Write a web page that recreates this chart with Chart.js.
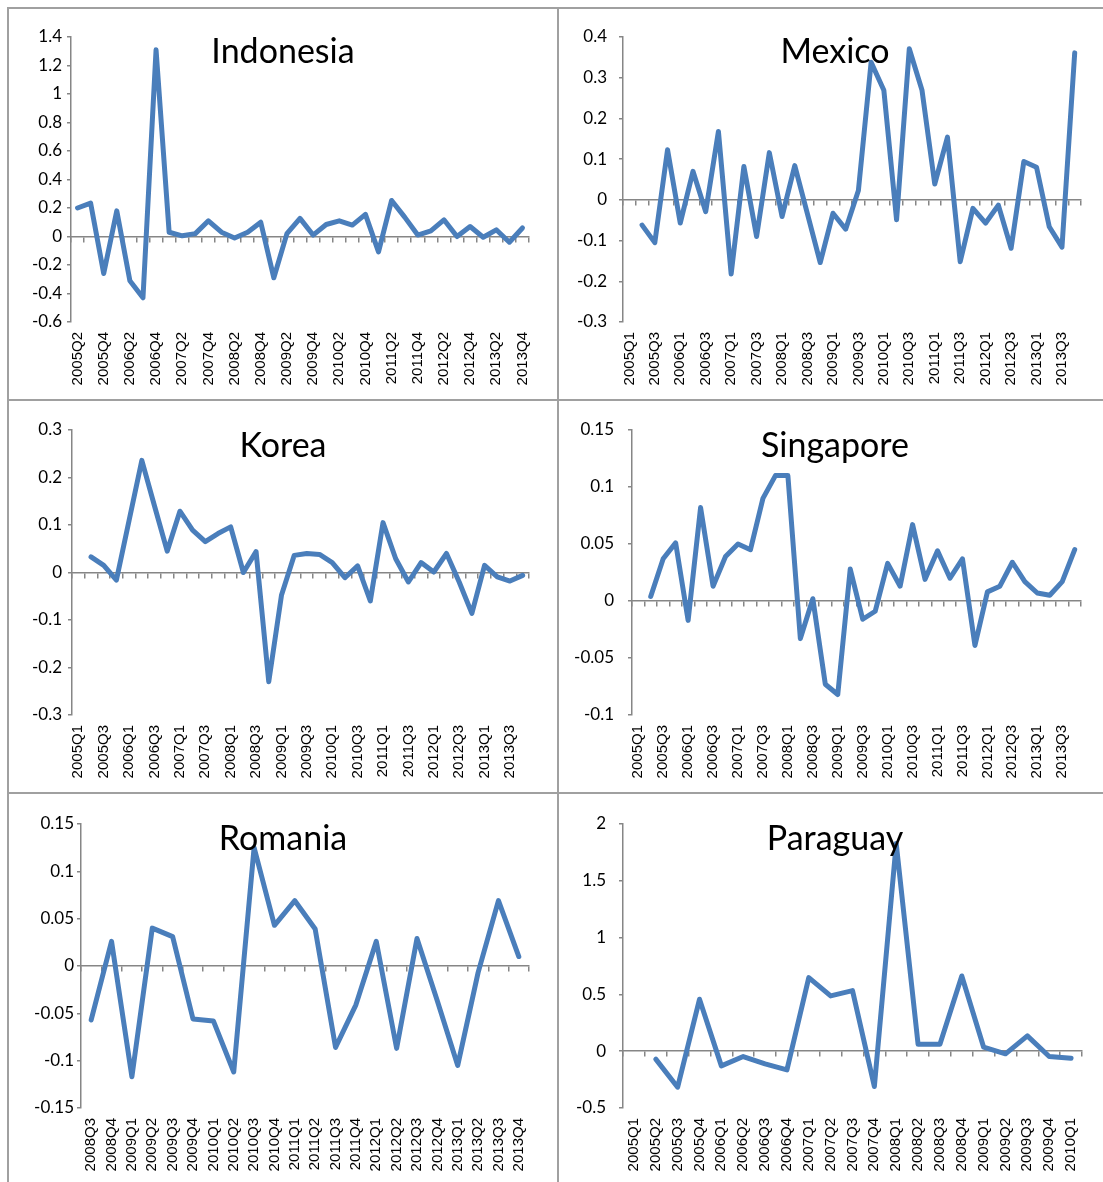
<!DOCTYPE html>
<html>
<head>
<meta charset="utf-8">
<title>Quarterly series</title>
<script src="https://cdn.jsdelivr.net/npm/chart.js@4.4.0/dist/chart.umd.min.js"></script>
<style>
  body { margin: 0; background: #fff; }
  #sheet { position: relative; width: 1103px; height: 1182px; overflow: hidden; background: #fff; }
  .rule { position: absolute; background: #a0a0a0; }
</style>
</head>
<body>
<div id="sheet"></div>
<script>
// Category labels
const quarters2005to2013 = ['2005Q1','2005Q2','2005Q3','2005Q4','2006Q1','2006Q2','2006Q3','2006Q4',
  '2007Q1','2007Q2','2007Q3','2007Q4','2008Q1','2008Q2','2008Q3','2008Q4','2009Q1','2009Q2','2009Q3','2009Q4',
  '2010Q1','2010Q2','2010Q3','2010Q4','2011Q1','2011Q2','2011Q3','2011Q4','2012Q1','2012Q2','2012Q3','2012Q4',
  '2013Q1','2013Q2','2013Q3','2013Q4'];
const indonesiaLabels = quarters2005to2013.slice(1);
const romaniaLabels = ['2008Q3','2008Q4','2009Q1','2009Q2','2009Q3','2009Q4','2010Q1','2010Q2','2010Q3','2010Q4',
  '2011Q1','2011Q2','2011Q3','2011Q4','2012Q1','2012Q2','2012Q3','2012Q4','2013Q1','2013Q2','2013Q3','2013Q4'];
const paraguayLabels = ['2005Q1','2005Q2','2005Q3','2005Q4','2006Q1','2006Q2','2006Q3','2006Q4','2007Q1','2007Q2',
  '2007Q3','2007Q4','2008Q1','2008Q2','2008Q3','2008Q4','2009Q1','2009Q2','2009Q3','2009Q4','2010Q1'];

// Series values
const indonesiaValues = [0.20, 0.234, -0.26, 0.18, -0.31, -0.43, 1.31, 0.03, 0.005, 0.02, 0.11, 0.03, -0.01, 0.03,
  0.10, -0.29, 0.02, 0.127, 0.01, 0.084, 0.11, 0.08, 0.155, -0.108, 0.253, 0.136, 0.01, 0.04, 0.117, 0.0, 0.07,
  -0.005, 0.047, -0.04, 0.06];
const mexicoValues = [null, -0.062, -0.105, 0.123, -0.057, 0.07, -0.029, 0.168, -0.182, 0.082, -0.09, 0.116,
  -0.041, 0.084, -0.035, -0.154, -0.033, -0.072, 0.023, 0.338, 0.269, -0.049, 0.371, 0.269, 0.039, 0.154, -0.152,
  -0.021, -0.057, -0.013, -0.119, 0.094, 0.08, -0.066, -0.116, 0.361];
const koreaValues = [null, 0.033, 0.015, -0.016, 0.11, 0.236, 0.14, 0.045, 0.129, 0.089, 0.065, 0.082, 0.096, 0.0,
  0.044, -0.23, -0.048, 0.036, 0.04, 0.038, 0.021, -0.011, 0.014, -0.06, 0.105, 0.029, -0.02, 0.021, 0.001, 0.04,
  -0.02, -0.086, 0.015, -0.009, -0.018, -0.006];
const singaporeValues = [null, 0.004, 0.037, 0.051, -0.017, 0.082, 0.013, 0.039, 0.05, 0.045, 0.09, 0.11, 0.11,
  -0.033, 0.002, -0.073, -0.082, 0.028, -0.016, -0.009, 0.033, 0.013, 0.067, 0.019, 0.044, 0.02, 0.037, -0.039,
  0.008, 0.013, 0.034, 0.017, 0.007, 0.005, 0.017, 0.045];
const romaniaValues = [-0.057, 0.026, -0.117, 0.04, 0.031, -0.056, -0.058, -0.112, 0.125, 0.043, 0.069, 0.039,
  -0.086, -0.041, 0.026, -0.087, 0.029, -0.037, -0.105, -0.007, 0.069, 0.01];
const paraguayValues = [null, -0.07, -0.317, 0.457, -0.129, -0.047, -0.111, -0.164, 0.648, 0.487, 0.533, -0.311,
  1.829, 0.062, 0.062, 0.662, 0.035, -0.023, 0.135, -0.047, -0.062];

const LINE = '#4a7ebb';
const AXIS = '#868686';

// cell = canvas box on the page, area = plot area on the page (l, t, r, b)
const panels = [
  { title: 'Indonesia', labels: indonesiaLabels, values: indonesiaValues, min: -0.6, max: 1.4, step: 0.2, every: 2,
    cell: [9, 9, 548, 390], area: [71, 37, 529, 322], titleAt: [283, 63], gap: 5 },
  { title: 'Mexico', labels: quarters2005to2013, values: mexicoValues, min: -0.3, max: 0.4, step: 0.1, every: 2,
    cell: [559, 9, 544, 390], area: [623, 37, 1082, 322], titleAt: [835, 63], gap: 12 },
  { title: 'Korea', labels: quarters2005to2013, values: koreaValues, min: -0.3, max: 0.3, step: 0.1, every: 2,
    cell: [9, 401, 548, 391], area: [72, 430, 529, 715], titleAt: [283, 457], gap: 6 },
  { title: 'Singapore', labels: quarters2005to2013, values: singaporeValues, min: -0.1, max: 0.15, step: 0.05, every: 2,
    cell: [559, 401, 544, 391], area: [632, 430, 1082, 715], titleAt: [835, 457], gap: 14 },
  { title: 'Romania', labels: romaniaLabels, values: romaniaValues, min: -0.15, max: 0.15, step: 0.05, every: 1,
    cell: [9, 794, 548, 388], area: [81, 824, 529, 1108], titleAt: [283, 850], gap: 3 },
  { title: 'Paraguay', labels: paraguayLabels, values: paraguayValues, min: -0.5, max: 2, step: 0.5, every: 1,
    cell: [559, 794, 544, 388], area: [623, 824, 1082, 1108], titleAt: [835, 850], gap: 13 }
];

// Title drawn on top of the plot, like the spreadsheet overlay title
const panelTitle = {
  id: 'panelTitle',
  afterDraw(chart, args, opts) {
    const ctx = chart.ctx;
    ctx.save();
    ctx.font = '34px Lato';
    ctx.fillStyle = '#000';
    ctx.textAlign = 'center';
    ctx.textBaseline = 'alphabetic';
    ctx.fillText(opts.text, opts.x, opts.y);
    ctx.restore();
  }
};

const sheet = document.getElementById('sheet');

// Panel frame lines
[[7, 7, 2, 1175], [557, 7, 2, 1175], [7, 7, 1096, 2], [7, 399, 1096, 2], [7, 792, 1096, 2]].forEach(r => {
  const d = document.createElement('div');
  d.className = 'rule';
  d.style.cssText = `left:${r[0]}px;top:${r[1]}px;width:${r[2]}px;height:${r[3]}px`;
  sheet.appendChild(d);
});

function drawPanel(p) {
  const [cx, cy, cw, ch] = p.cell;
  const [l, t, r, b] = p.area;
  const canvas = document.createElement('canvas');
  canvas.width = cw;
  canvas.height = ch;
  canvas.style.cssText = `position:absolute;left:${cx}px;top:${cy}px;width:${cw}px;height:${ch}px`;
  sheet.appendChild(canvas);

  new Chart(canvas, {
    type: 'line',
    data: {
      labels: p.labels,
      datasets: [{
        data: p.values,
        xAxisID: 'x',
        yAxisID: 'y',
        borderColor: LINE,
        borderWidth: 5,
        pointRadius: 0,
        tension: 0,
        borderJoinStyle: 'round',
        borderCapStyle: 'round'
      }]
    },
    options: {
      responsive: false,
      animation: false,
      devicePixelRatio: 1,
      layout: { padding: { left: 0, top: t - cy, right: cx + cw - r, bottom: 0 } },
      plugins: {
        legend: { display: false },
        tooltip: { enabled: false },
        panelTitle: { text: p.title, x: p.titleAt[0] - cx, y: p.titleAt[1] - cy }
      },
      scales: {
        // axis line crossing at zero, with tick marks between categories
        x: {
          type: 'category',
          position: { y: 0 },
          offset: true,
          grid: { display: true, drawOnChartArea: false, drawTicks: true, tickLength: 5, offset: true, color: AXIS, lineWidth: 1.5 },
          border: { color: AXIS, width: 1.5 },
          ticks: { display: false }
        },
        // category labels along the bottom
        x2: {
          type: 'category',
          position: 'bottom',
          offset: true,
          grid: { display: false, drawTicks: false },
          border: { display: false },
          ticks: {
            autoSkip: false,
            minRotation: 90,
            maxRotation: 90,
            padding: 10,
            color: '#000',
            font: { family: 'Liberation Sans', size: 15 },
            callback: function (v, i) {
              return i % p.every === 0 ? this.getLabelForValue(v) : '';
            }
          },
          afterFit: s => { s.height = cy + ch - b; }
        },
        y: {
          min: p.min,
          max: p.max,
          ticks: {
            stepSize: p.step,
            padding: p.gap,
            color: '#000',
            font: { family: 'Lato', size: 17 },
            callback: v => String(+v.toFixed(2))
          },
          grid: { drawOnChartArea: false, drawTicks: true, tickLength: 4, color: AXIS, lineWidth: 1.5 },
          border: { color: AXIS, width: 1.5 },
          afterFit: s => { s.width = l - cx; }
        }
      }
    },
    plugins: [panelTitle]
  });
}

panels.forEach(drawPanel);
</script>
</body>
</html>
